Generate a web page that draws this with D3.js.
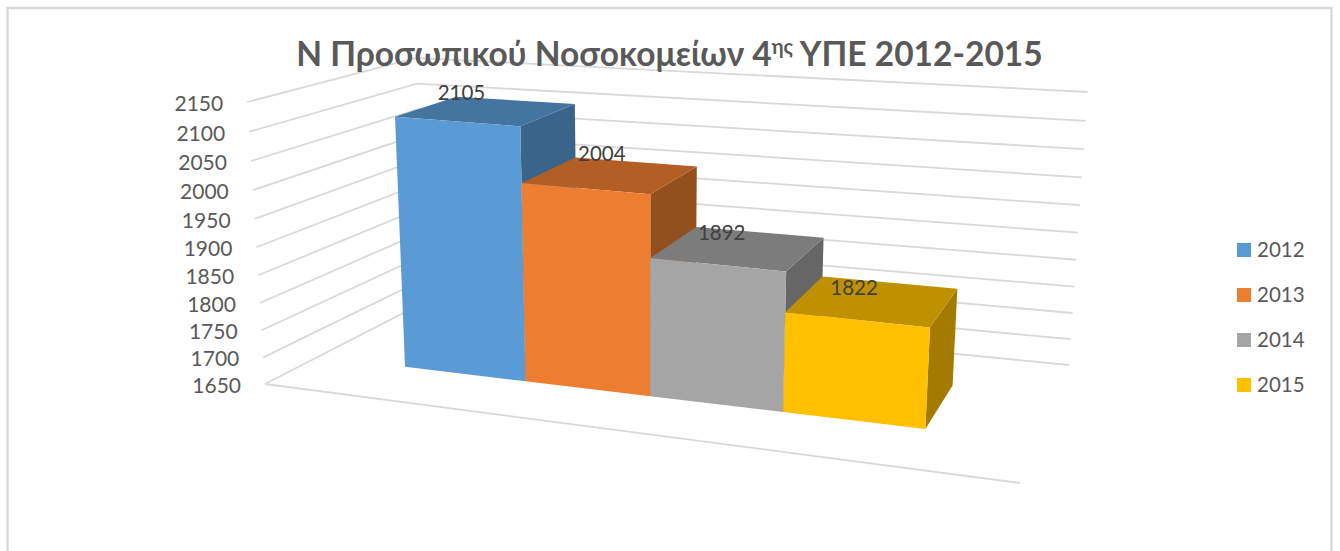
<!DOCTYPE html>
<html lang="el">
<head>
<meta charset="utf-8">
<title>Ν Προσωπικού Νοσοκομείων 4ης ΥΠΕ 2012-2015</title>
<script src="https://cdn.jsdelivr.net/npm/d3@7/dist/d3.min.js"></script>
<style>
  html, body { margin: 0; padding: 0; background: #fff; overflow: hidden; }
  svg { display: block; }
  text { font-family: Lato, "Open Sans", "Noto Sans", sans-serif; }
</style>
</head>
<body>
<script>
// Chart data
const years = ["2012", "2013", "2014", "2015"];
const staff = [2105, 2004, 1892, 1822];
const axisTicks = [1650, 1700, 1750, 1800, 1850, 1900, 1950, 2000, 2050, 2100, 2150];
const titleMain = "Ν Προσωπικού Νοσοκομείων 4";
const titleSup = "ης";
const titleEnd = " ΥΠΕ 2012-2015";

// Palette: front, top and side faces of each column
const frontColors = ["#5b9bd5", "#ed7d31", "#a5a5a5", "#ffc000"];
const topColors = ["#4474a0", "#b25e25", "#7c7c7c", "#bf9000"];
const sideColors = ["#3a6489", "#934f1e", "#666666", "#a37b00"];
const labelNudge = [[-7, 1], [9, -2], [1, 3], [-1, 6]];

const width = 1340, height = 551;
const svg = d3.select("body").append("svg").attr("width", width).attr("height", height);

// Floor of the 3-D plot box on screen, and the point where verticals converge
const floor = { fl: [265, 384], fr: [1020, 483], br: [1069, 365], bl: [425, 302] };
const vanish = [650, 6500];
// Pixels per axis step at each floor corner
const stepPx = { fl: 28.2, fr: 31, br: 27.3, bl: 24.4 };
// Gridlines spread slightly as they rise up the walls
const wallSpread = 0.006;

// Unit-square to quadrilateral homography for the floor
const homography = (() => {
  const { fl: p0, fr: p1, br: p2, bl: p3 } = floor;
  const dx1 = p1[0] - p2[0], dx2 = p3[0] - p2[0], sx = p0[0] - p1[0] + p2[0] - p3[0];
  const dy1 = p1[1] - p2[1], dy2 = p3[1] - p2[1], sy = p0[1] - p1[1] + p2[1] - p3[1];
  const det = dx1 * dy2 - dx2 * dy1;
  const g = (sx * dy2 - dx2 * sy) / det, h = (dx1 * sy - sx * dy1) / det;
  const a = p1[0] - p0[0] + g * p1[0], b = p3[0] - p0[0] + h * p3[0];
  const d = p1[1] - p0[1] + g * p1[1], e = p3[1] - p0[1] + h * p3[1];
  return (u, v) => {
    const w = 1 + g * u + h * v;
    return [(a * u + b * v + p0[0]) / w, (d * u + e * v + p0[1]) / w];
  };
})();

// Axis scale in steps above the floor
const steps = d3.scaleLinear().domain([1650, 2150]).range([0, 10]);
// Column edges across the floor, eased a little to follow the foreshortening
const xEdge = d3.scalePow().exponent(0.97).domain([0, years.length]).range([0.145, 0.871]);
const depth = { front: 0.298, back: 0.69 };

// Project plot coordinates (u across, v into depth, value upward) to the screen
function project(u, v, value, spread = 0) {
  const [px, py] = homography(u, v);
  const k = d3.scaleLinear().domain([0, 1]).range([
    stepPx.fl + (stepPx.fr - stepPx.fl) * u,
    stepPx.bl + (stepPx.br - stepPx.bl) * u
  ])(v);
  const s = steps(value);
  const lift = k * s * (1 + spread * (s - 10));
  return [px + (px - vanish[0]) * lift / (vanish[1] - py), py - lift];
}

const line = d3.line();
const polygon = pts => line(pts) + "Z";

// Chart frame, open at the bottom edge
svg.append("rect")
  .attr("x", 7.5).attr("y", 8).attr("width", 1324).attr("height", 580)
  .attr("fill", "#fff").attr("stroke", "#d9d9d9").attr("stroke-width", 2.4);

// Gridlines along the left and back walls
const grid = svg.append("g").attr("fill", "none").attr("stroke", "#d9d9d9").attr("stroke-width", 1.8);
grid.selectAll("path.grid").data(axisTicks).join("path")
  .attr("class", "grid")
  .attr("d", t => line([project(0, 0, t, wallSpread), project(0, 1, t, wallSpread), project(1, 1, t, wallSpread)]));

// Front edge of the floor
grid.append("path").attr("d", line([project(0, 0, 1650), project(1, 0, 1650)]));

// Columns, painted left to right so each one covers the side of its neighbour
const bars = svg.append("g").selectAll("g").data(years).join("g");
bars.each(function (year, i) {
  const g = d3.select(this);
  const u0 = xEdge(i), u1 = xEdge(i + 1);
  const val = staff[i];
  const { front: vf, back: vb } = depth;
  g.append("path").attr("fill", sideColors[i]).attr("d", polygon([
    project(u1, vf, 1650), project(u1, vb, 1650), project(u1, vb, val), project(u1, vf, val)
  ]));
  g.append("path").attr("fill", topColors[i]).attr("d", polygon([
    project(u0, vf, val), project(u1, vf, val), project(u1, vb, val), project(u0, vb, val)
  ]));
  g.append("path").attr("fill", frontColors[i]).attr("d", polygon([
    project(u0, vf, 1650), project(u1, vf, 1650), project(u1, vf, val), project(u0, vf, val)
  ]));
});

// Value labels, centred over the top face of each column
const topCentre = i => project((xEdge(i) + xEdge(i + 1)) / 2, (depth.front + depth.back) / 2, staff[i]);
svg.append("g").selectAll("text").data(years).join("text")
  .attr("text-anchor", "middle")
  .attr("font-size", 20.5)
  .attr("fill", "#404040")
  .attr("x", (y, i) => topCentre(i)[0] - 18 + labelNudge[i][0])
  .attr("y", (y, i) => topCentre(i)[1] - 11 + labelNudge[i][1])
  .text((y, i) => staff[i]);

// Axis labels follow the leaning front edge of the left wall
svg.append("g").selectAll("text").data(axisTicks).join("text")
  .attr("text-anchor", "end")
  .attr("font-size", 21)
  .attr("fill", "#595959")
  .attr("x", t => project(0, 0, t, wallSpread)[0] - 24)
  .attr("y", t => project(0, 0, t, wallSpread)[1] + 9)
  .text(t => t);

// Title
const title = svg.append("text")
  .attr("x", 669.5).attr("y", 66)
  .attr("text-anchor", "middle")
  .attr("font-size", 33.5)
  .attr("font-weight", 700)
  .attr("fill", "#595959");
title.append("tspan").text(titleMain);
title.append("tspan").attr("font-size", 20).attr("dy", -12).text(titleSup);
title.append("tspan").attr("dy", 12).text(titleEnd);

// Legend
const legendY = d3.scalePoint().domain(years).range([250, 385]);
const legendColor = d3.scaleOrdinal().domain(years).range(frontColors);
const legend = svg.append("g").selectAll("g").data(years).join("g")
  .attr("transform", y => `translate(1237,${legendY(y)})`);
legend.append("rect").attr("y", -7).attr("width", 14).attr("height", 14).attr("fill", y => legendColor(y));
legend.append("text").attr("x", 20).attr("y", 7).attr("font-size", 20.5).attr("fill", "#595959").text(y => y);
</script>
</body>
</html>
